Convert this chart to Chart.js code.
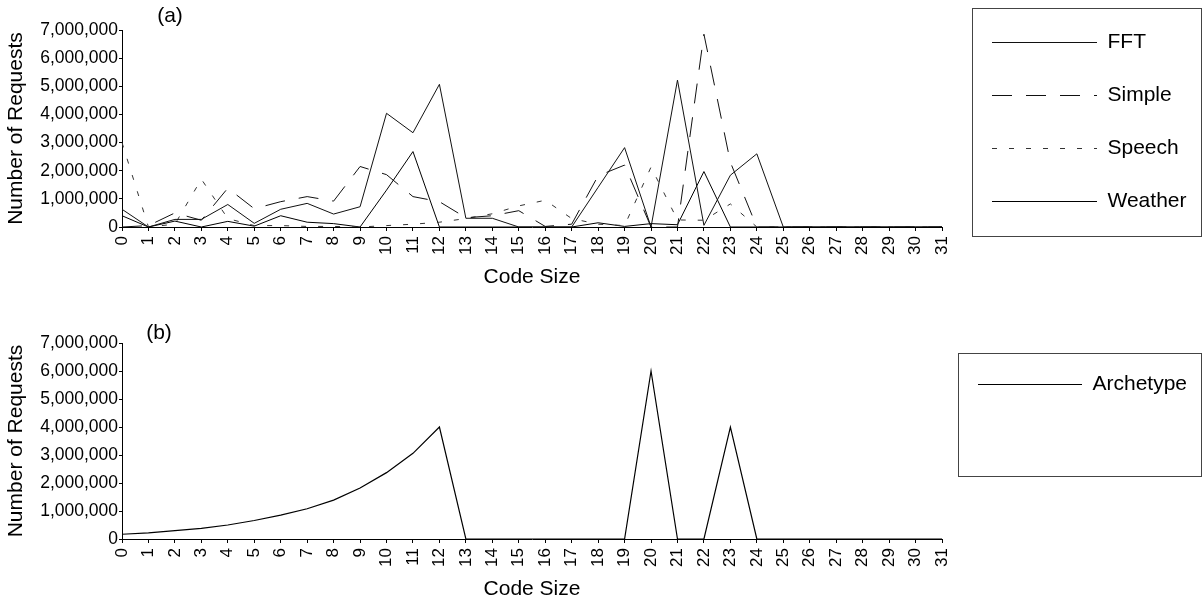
<!DOCTYPE html>
<html>
<head>
<meta charset="utf-8">
<title>Number of Requests by Code Size</title>
<script src="https://cdn.jsdelivr.net/npm/chart.js@4.4.1/dist/chart.umd.min.js"></script>
<style>
    html, body { margin: 0; padding: 0; background: #fff; }
    canvas { display: block; }
</style>
</head>
<body>
<canvas id="chartA" width="1202" height="300"></canvas>
<canvas id="chartB" width="1202" height="303"></canvas>
<script>
// Datos (valores aproximados)
const tamanosCodigo = ['0', '1', '2', '3', '4', '5', '6', '7', '8', '9', '10', '11', '12', '13', '14', '15',
    '16', '17', '18', '19', '20', '21', '22', '23', '24', '25', '26', '27', '28', '29', '30', '31'];
const ticksY = [0, 1000000, 2000000, 3000000, 4000000, 5000000, 6000000, 7000000];

const fft = [630000, 0, 270000, 270000, 800000, 130000, 630000, 840000, 460000, 720000,
    4040000, 3350000, 5070000, 310000, 310000, 0, 0, 0, 1410000, 2820000,
    0, 5220000, 60000, 1840000, 2600000, 0, 0, 0, 0, 0, 0, 0];
const simple = [0, 50000, 500000, 240000, 1380000, 650000, 900000, 1080000, 920000, 2150000,
    1860000, 1080000, 900000, 330000, 400000, 580000, 20000, 100000, 1820000, 2200000,
    0, 0, 6850000, 2300000, 0, 0, 0, 0, 0, 0, 0, 0];
const speech = [3000000, 0, 100000, 1700000, 300000, 50000, 50000, 20000, 20000, 0,
    50000, 100000, 170000, 300000, 470000, 750000, 950000, 300000, 100000, 50000,
    2130000, 250000, 240000, 820000, 0, 0, 0, 0, 0, 0, 0, 0];
const weather = [400000, 0, 210000, 0, 200000, 30000, 400000, 170000, 120000, 0,
    1310000, 2680000, 0, 0, 0, 0, 0, 0, 150000, 20000,
    120000, 80000, 1970000, 0, 0, 0, 0, 0, 0, 0, 0, 0];
const archetype = [170000, 220000, 300000, 380000, 500000, 660000, 850000, 1080000, 1390000, 1820000,
    2370000, 3060000, 4000000, 0, 0, 0, 0, 0, 0, 0,
    6000000, 0, 0, 4000000, 0, 0, 0, 0, 0, 0, 0, 0];

const FUENTE = '"Liberation Sans", Arial, Helvetica, sans-serif';
const TAM_LEYENDA = 21;
Chart.defaults.font.family = FUENTE;
Chart.defaults.color = '#000';

function anchoTexto(texto, size) {
    const c = document.createElement('canvas').getContext('2d');
    c.font = size + 'px ' + FUENTE;
    return c.measureText(texto).width;
}

// Marco de la leyenda y letra del panel
const marcoLeyenda = {
    id: 'marcoLeyenda',
    afterDraw(chart, args, opts) {
        const ctx = chart.ctx;
        const cajas = chart.legend.legendHitBoxes;
        ctx.save();
        if (cajas && cajas.length) {
            const primera = cajas[0];
            const ultima = cajas[cajas.length - 1];
            const izq = Math.round(primera.left - opts.izq) + 0.5;
            const arriba = Math.round(primera.top - opts.arriba) + 0.5;
            const abajo = Math.round(ultima.top + ultima.height + opts.abajo) + 0.5;
            ctx.strokeStyle = '#444';
            ctx.lineWidth = 1;
            ctx.strokeRect(izq, arriba, chart.width - 0.5 - izq, abajo - arriba);
        }
        ctx.fillStyle = '#000';
        ctx.font = '21px ' + FUENTE;
        ctx.textAlign = 'center';
        ctx.textBaseline = 'middle';
        ctx.fillText(opts.letra, opts.letraX, opts.letraY);
        ctx.restore();
    }
};

function serie(label, data, color, width, dash) {
    return {
        label: label,
        data: data,
        borderColor: color,
        backgroundColor: color,
        borderWidth: width,
        borderDash: dash,
        pointRadius: 0,
        tension: 0,
        fill: false,
        xAxisID: 'x',
        yAxisID: 'y'
    };
}

// la leyenda con pointStyle no copia el trazo de la linea, se lo pasamos
function etiquetasLeyenda(chart) {
    const base = Chart.defaults.plugins.legend.labels.generateLabels(chart);
    return base.map((item, i) => {
        const ds = chart.data.datasets[i];
        item.lineDash = ds.borderDash;
        item.lineWidth = ds.borderWidth;
        item.strokeStyle = ds.borderColor;
        item.fillStyle = ds.borderColor;
        return item;
    });
}

function crearGrafico(id, datasets, cfg) {
    const etiquetas = datasets.map(d => d.label);
    const textoMax = Math.max(...etiquetas.map(t => anchoTexto(t, TAM_LEYENDA)));
    // padding derecho para que la muestra de linea empiece donde toca
    const padDerecho = Math.max(0, 1202 - cfg.inicioLinea - cfg.largoLinea - TAM_LEYENDA / 2 - textoMax - 10);
    const hueco = (cfg.inicioLinea - cfg.separacion) - 942;

    const escalas = {
        x: {
            type: 'category',
            offset: false,
            grid: { display: true, drawOnChartArea: false, drawTicks: true, tickLength: 4, color: '#000' },
            border: { display: true, color: '#000', width: 1 },
            ticks: { autoSkip: false, minRotation: 90, maxRotation: 90, padding: 5, font: { size: 17 }, color: '#000' },
            title: { display: true, text: 'Code Size', font: { size: 21 }, color: '#000', padding: { top: 0, bottom: cfg.tituloXAbajo } },
            afterFit: s => { s.height = cfg.altoEjeX; }
        },
        y: {
            type: 'linear',
            min: ticksY[0],
            max: ticksY[ticksY.length - 1],
            grid: { display: true, drawOnChartArea: false, drawTicks: true, tickLength: 3, color: '#000' },
            border: { display: true, color: '#000', width: 1 },
            afterBuildTicks: s => { s.ticks = ticksY.map(v => ({ value: v })); },
            ticks: { padding: 1, font: { size: 17.5 }, color: '#000', callback: v => v.toLocaleString('en-US') },
            title: { display: true, text: 'Number of Requests', font: { size: 21 }, color: '#000', padding: { top: 4, bottom: 0 } },
            afterFit: s => { s.width = 122; }
        },
        huecoDerecho: {
            type: 'linear',
            axis: 'y',
            position: 'right',
            grid: { display: false },
            border: { display: false },
            ticks: { display: false },
            afterFit: s => { s.width = hueco; }
        }
    };
    if (cfg.huecoArriba) {
        escalas.huecoArriba = {
            type: 'linear',
            axis: 'x',
            position: 'top',
            grid: { display: false },
            border: { display: false },
            ticks: { display: false },
            afterFit: s => { s.height = cfg.huecoArriba; }
        };
    }

    const ctx = document.getElementById(id).getContext('2d');
    return new Chart(ctx, {
        type: 'line',
        data: { labels: tamanosCodigo, datasets: datasets },
        options: {
            responsive: false,
            animation: false,
            events: [],
            layout: { padding: { left: 0, right: padDerecho, top: cfg.padArriba, bottom: 0 } },
            scales: escalas,
            plugins: {
                tooltip: { enabled: false },
                legend: {
                    position: 'right',
                    align: 'start',
                    maxWidth: 400,
                    labels: {
                        usePointStyle: true,
                        pointStyle: 'line',
                        pointStyleWidth: cfg.largoLinea,
                        padding: cfg.separacion,
                        font: { size: TAM_LEYENDA },
                        color: '#000',
                        generateLabels: etiquetasLeyenda
                    }
                },
                marcoLeyenda: cfg.marco
            }
        },
        plugins: [marcoLeyenda]
    });
}

// Grafico (a)
function inicializarGraficoA() {
    crearGrafico('chartA', [
        serie('FFT', fft, '#111', 1, []),
        serie('Simple', simple, '#111', 1, [20, 14]),
        serie('Speech', speech, '#333', 1, [5, 12]),
        serie('Weather', weather, '#000', 1, [])
    ], {
        inicioLinea: 992,
        largoLinea: 105,
        separacion: 32,
        huecoArriba: 30,
        padArriba: 0,
        altoEjeX: 73,
        tituloXAbajo: 10,
        marco: { izq: 20, arriba: 24, abajo: 24, letra: '(a)', letraX: 170, letraY: 16 }
    });
}

// Grafico (b)
function inicializarGraficoB() {
    crearGrafico('chartB', [
        serie('Archetype', archetype, '#000', 1.2, [])
    ], {
        inicioLinea: 978,
        largoLinea: 104,
        separacion: 31,
        huecoArriba: 0,
        padArriba: 43,
        altoEjeX: 64,
        tituloXAbajo: 1,
        marco: { izq: 20, arriba: 21, abajo: 81, letra: '(b)', letraX: 159, letraY: 33 }
    });
}

document.addEventListener('DOMContentLoaded', () => {
    inicializarGraficoA();
    inicializarGraficoB();
});
</script>
</body>
</html>
